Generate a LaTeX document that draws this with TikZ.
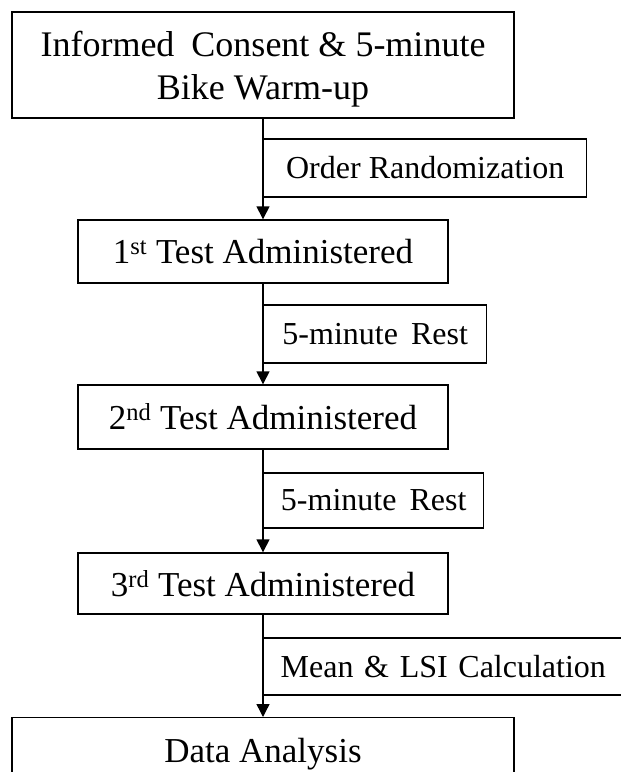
\documentclass[tikz,border=0pt]{standalone}
\usepackage{fontspec}
\setmainfont{Liberation Serif}
\usetikzlibrary{arrows.meta}

\begin{document}
\begin{tikzpicture}[x=1pt,y=-1pt,
    mainbox/.style={draw,line width=1.4pt,inner sep=0pt,align=center,font=\fontsize{35}{35}\selectfont},
    sidebox/.style={draw,line width=1.4pt,inner sep=0pt,anchor=west,font=\fontsize{32}{32}\selectfont},
    flow/.style={line width=1.4pt,-{Triangle[length=13pt,width=13pt]}}]
    \clip (0,0) rectangle (621,772);
    \fill[white] (0,0) rectangle (621,772);
    % main steps
    \node[mainbox,minimum width=502pt,minimum height=106pt,font=\fontsize{36}{43}\selectfont] (consent) at (263,65) {\rule{0pt}{33pt}Informed\hspace{8pt} Consent \& 5-minute\\Bike Warm-up};
    \node[mainbox,minimum width=370pt,minimum height=63pt] (test1) at (263,251.5) {1\textsuperscript{st} Test Administered};
    \node[mainbox,minimum width=370pt,minimum height=64pt] (test2) at (263,417) {2\textsuperscript{nd} Test Administered};
    \node[mainbox,minimum width=370pt,minimum height=61pt] (test3) at (263,583.5) {3\textsuperscript{rd} Test Administered};
    \node[mainbox,minimum width=502pt,anchor=north,text height=24pt,text depth=8pt,inner ysep=21pt] (analysis) at (263,717) {Data Analysis};
    % arrows
    \draw[flow] (consent) -- (test1);
    \draw[flow] (test1) -- (test2);
    \draw[flow] (test2) -- (test3);
    \draw[flow] (test3) -- (analysis);
    % side notes
    \node[sidebox,minimum width=323pt,minimum height=58pt] (order) at (263,168) {Order Randomization};
    \node[sidebox,minimum width=223pt,minimum height=58pt] (rest1) at (263,334) {5-minute\hspace{5pt} Rest};
    \node[sidebox,minimum width=220pt,minimum height=55pt] (rest2) at (263,500.5) {5-minute\hspace{5pt} Rest};
    \node[sidebox,minimum height=57pt,text width=340pt,align=left,inner xsep=17pt] (mean) at (263,666.5) {Mean \& LSI Calculation};
\end{tikzpicture}
\end{document}
